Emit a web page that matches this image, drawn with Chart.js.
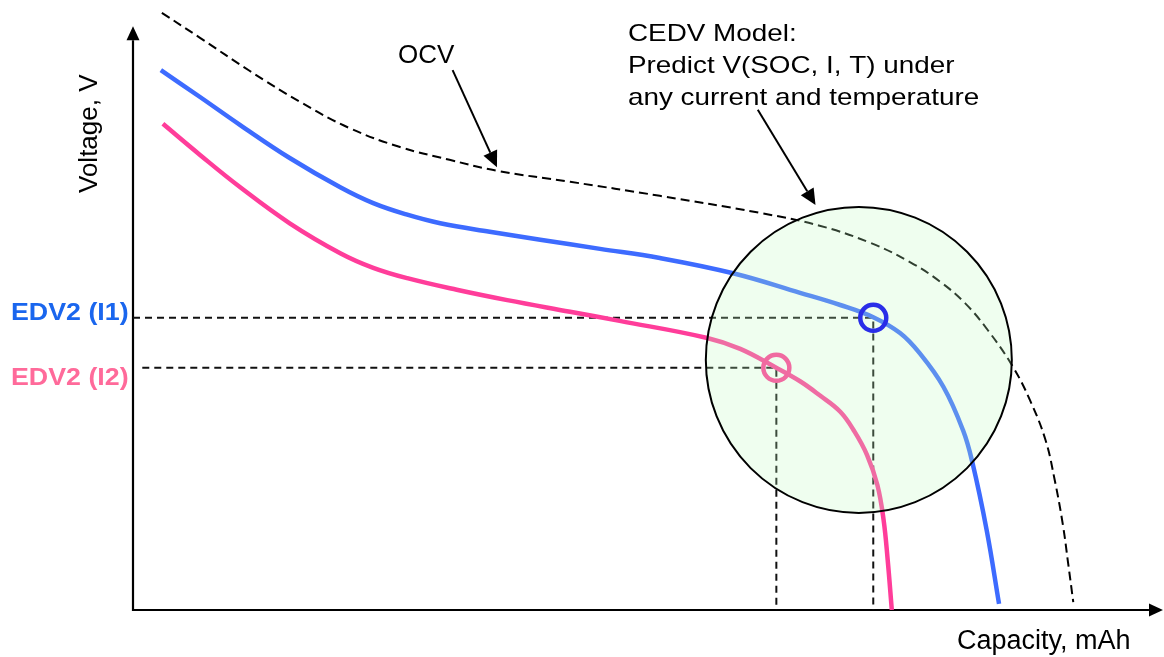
<!DOCTYPE html>
<html>
<head>
<meta charset="utf-8">
<script src="https://cdn.jsdelivr.net/npm/chart.js@4.4.0/dist/chart.umd.min.js"></script>
<style>
  html, body { margin: 0; padding: 0; background: #fff; }
  #wrap { width: 1164px; height: 657px; position: relative; }
</style>
</head>
<body>
<div id="wrap"><canvas id="c"></canvas></div>
<script>
// capacity (x) and voltage (y) in arbitrary units 0..100
const ocvCap  = [2.8, 6.5, 11.3, 16.2, 21.0, 25.9, 30.7, 35.3, 42.4, 51.1, 60.8, 66.6, 71.5, 75.4, 78.3, 80.7, 82.9, 85.3, 87.0, 88.5, 89.4, 90.2, 90.7, 91.2]
const ocvVolt = [97.9, 93.8, 88.4, 83.3, 79.0, 75.9, 73.8, 72.0, 70.2, 67.9, 65.1, 63.0, 60.2, 57.0, 53.8, 50.3, 45.9, 40.0, 34.4, 27.9, 21.3, 13.9, 7.7, 1.3]

const i1Cap  = [2.7, 6.5, 10.4, 15.2, 20.1, 23.3, 26.6, 29.8, 34.6, 39.5, 45.3, 51.1, 58.2, 64.7, 68.6, 71.8, 74.4, 76.3, 78.6, 80.5, 81.4, 82.8, 84.0]
const i1Volt = [88.5, 84.1, 79.5, 74.1, 69.3, 66.7, 64.8, 63.4, 62.0, 60.7, 59.2, 57.7, 55.2, 52.0, 50.0, 48.0, 45.4, 42.1, 36.6, 29.5, 24.3, 13.1, 1.0]

const i2Cap  = [2.9, 6.5, 10.4, 15.2, 20.1, 23.3, 26.6, 31.4, 36.3, 42.4, 47.2, 55.7, 58.9, 62.3, 64.7, 66.6, 68.6, 70.0, 71.2, 72.2, 72.8, 73.2, 73.6]
const i2Volt = [79.7, 74.6, 69.3, 63.4, 58.5, 56.1, 54.4, 52.5, 50.8, 48.9, 47.4, 44.6, 42.8, 39.8, 37.5, 35.2, 32.5, 29.2, 25.4, 20.5, 14.8, 8.2, 0]

// EDV2 points [capacity, voltage]
const edvI1 = [71.8, 47.9]
const edvI2 = [62.4, 39.7]

// CEDV model region (centre, radius in px)
const modelCentre = [70.4, 41.0]
const modelRadius = 153

// annotation arrows [fromCap, fromVolt, toCap, toVolt]
const ocvArrow  = [31.0, 88.5, 35.3, 72.6]
const cedvArrow = [60.6, 82.0, 66.2, 66.4]

const axisTop = 95.7
const axisRight = 99.9

const zip = (xs, ys) => xs.map((v, i) => ({x: v, y: ys[i]}))

function arrow(ctx, x1, y1, x2, y2, len, half) {
    const a = Math.atan2(y2 - y1, x2 - x1)
    const bx = x2 - len * Math.cos(a), by = y2 - len * Math.sin(a)
    ctx.beginPath()
    ctx.moveTo(x1, y1)
    ctx.lineTo(bx, by)
    ctx.stroke()
    ctx.beginPath()
    ctx.moveTo(x2, y2)
    ctx.lineTo(bx + half * Math.sin(a), by - half * Math.cos(a))
    ctx.lineTo(bx - half * Math.sin(a), by + half * Math.cos(a))
    ctx.closePath()
    ctx.fill()
}

function text(ctx, str, x, y, font, color, sx) {
    ctx.save()
    ctx.translate(x, y)
    ctx.scale(sx || 1, 1)
    ctx.font = font
    ctx.fillStyle = color
    ctx.textBaseline = 'alphabetic'
    ctx.fillText(str, 0, 0)
    ctx.restore()
}

const extras = {
    id: 'extras',
    beforeDatasetsDraw(chart) {
        const {ctx, scales: {x, y}} = chart
        const x0 = x.getPixelForValue(0), y0 = y.getPixelForValue(0)
        const xEnd = x.getPixelForValue(axisRight), yEnd = y.getPixelForValue(axisTop)
        ctx.save()
        ctx.strokeStyle = '#000'
        ctx.fillStyle = '#000'
        ctx.lineWidth = 2.2
        arrow(ctx, x0, y0 + 1, x0, yEnd, 14, 6.5)
        arrow(ctx, x0 - 1, y0, xEnd, y0, 14, 6.5)
        ctx.restore()
    },
    afterDatasetsDraw(chart) {
        const {ctx, scales: {x, y}} = chart
        ctx.save()
        ctx.strokeStyle = '#000'
        ctx.fillStyle = '#000'
        ctx.lineWidth = 2
        for (const a of [ocvArrow, cedvArrow]) {
            arrow(ctx, x.getPixelForValue(a[0]), y.getPixelForValue(a[1]),
                  x.getPixelForValue(a[2]), y.getPixelForValue(a[3]), 16, 7.5)
        }
        ctx.restore()

        const f = '"Liberation Sans", Arial, sans-serif'
        text(ctx, 'OCV', 398, 63, '26px ' + f, '#000')
        text(ctx, 'CEDV Model:', 628, 41, '24px ' + f, '#000', 1.16)
        text(ctx, 'Predict V(SOC, I, T) under', 628, 73, '24px ' + f, '#000', 1.16)
        text(ctx, 'any current and temperature', 628, 105, '24px ' + f, '#000', 1.16)
        text(ctx, 'EDV2 (I1)', 11, 320, 'bold 23.5px ' + f, '#1a66ee', 1.14)
        text(ctx, 'EDV2 (I2)', 11, 385, 'bold 23.5px ' + f, '#ff6a9a', 1.14)
        text(ctx, 'Capacity, mAh', 957, 649, '27px ' + f, '#000')

        ctx.save()
        ctx.translate(97, 193)
        ctx.rotate(-Math.PI / 2)
        ctx.font = '26px ' + f
        ctx.fillStyle = '#000'
        ctx.fillText('Voltage, V', 0, 0)
        ctx.restore()
    }
}

const curve = {type: 'line', pointRadius: 0, tension: 0.4, order: 2}

new Chart(document.getElementById('c'), {
    type: 'scatter',
    data: {
        datasets: [
            {
                label: 'EDV2 (I1)',
                data: [{x: edvI1[0], y: edvI1[1]}],
                pointRadius: 13,
                borderWidth: 4.5,
                borderColor: '#2a2ee8',
                backgroundColor: 'rgba(0,0,0,0)',
                order: 0
            },
            {
                label: 'EDV2 (I2)',
                data: [{x: edvI2[0], y: edvI2[1]}],
                pointRadius: 13,
                borderWidth: 4.5,
                borderColor: '#f06aa0',
                backgroundColor: 'rgba(0,0,0,0)',
                order: 0
            },
            {
                type: 'bubble',
                label: 'CEDV Model',
                data: [{x: modelCentre[0], y: modelCentre[1], r: modelRadius}],
                backgroundColor: 'rgba(190,253,192,0.25)',
                borderColor: '#000',
                borderWidth: 2,
                order: 1
            },
            {
                ...curve,
                label: 'I1',
                data: zip(i1Cap, i1Volt),
                borderColor: '#3d6bff',
                borderWidth: 4.5
            },
            {
                ...curve,
                label: 'I2',
                data: zip(i2Cap, i2Volt),
                borderColor: '#ff3d9a',
                borderWidth: 4.5
            },
            {
                ...curve,
                label: 'OCV',
                data: zip(ocvCap, ocvVolt),
                borderColor: '#000',
                borderWidth: 2,
                borderDash: [9, 5]
            },
            {
                type: 'line',
                label: 'guide I1',
                data: [{x: 0, y: edvI1[1]}, {x: edvI1[0], y: edvI1[1]}, {x: edvI1[0], y: 0}],
                borderColor: '#111',
                borderWidth: 2,
                borderDash: [7, 5],
                pointRadius: 0,
                tension: 0,
                order: 3
            },
            {
                type: 'line',
                label: 'guide I2',
                data: [{x: 0.9, y: edvI2[1]}, {x: edvI2[0], y: edvI2[1]}, {x: edvI2[0], y: 0}],
                borderColor: '#111',
                borderWidth: 2,
                borderDash: [7, 5],
                pointRadius: 0,
                tension: 0,
                order: 3
            }
        ]
    },
    options: {
        responsive: true,
        maintainAspectRatio: false,
        animation: false,
        events: [],
        layout: {autoPadding: false, padding: {left: 133, right: 0, top: 0, bottom: 47}},
        scales: {
            x: {type: 'linear', min: 0, max: 100, display: false},
            y: {type: 'linear', min: 0, max: 100, display: false}
        },
        plugins: {
            legend: {display: false},
            tooltip: {enabled: false}
        }
    },
    plugins: [extras]
});
</script>
</body>
</html>
